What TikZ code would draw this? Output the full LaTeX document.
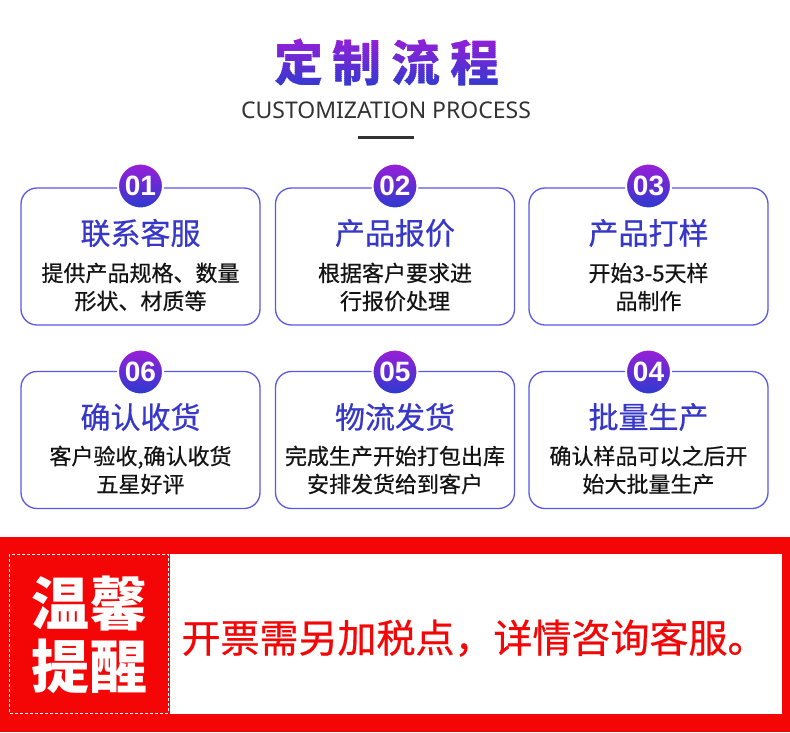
\documentclass[tikz,border=0pt]{standalone}
\usepackage{fontspec}
\usepackage{xcolor}
\usepackage{tikz}
\usetikzlibrary{positioning}
\newfontfamily\cjk{Noto Sans CJK SC}
\newfontfamily\cjkmed[FakeBold=0.6]{Noto Sans CJK SC}
\newfontfamily\latin{Noto Sans}
\newfontfamily\digits{Liberation Sans}
\definecolor{CPurple}{HTML}{9A1ED8}
\definecolor{CBlue}{HTML}{2B3BCF}
\definecolor{CTitle}{HTML}{3838C8}
\definecolor{CFrame}{HTML}{5858E6}
\definecolor{CInk}{HTML}{141414}
\definecolor{CGray}{HTML}{333333}
\definecolor{CRed}{HTML}{F50606}
\newcommand{\fsz}[2]{\fontsize{#1}{#2}\selectfont}
\newcommand{\headtext}{定\hspace{10pt}制\hspace{10pt}流\hspace{10pt}程}

\begin{document}
\begin{tikzpicture}[x=1pt, y=-1pt,
  card/.style={draw=CFrame, line width=1.3pt, rounded corners=16pt, fill=white,
    minimum width=239pt, minimum height=137pt, inner sep=0pt},
  badge/.style={circle, minimum size=45pt, inner sep=0pt, draw=white, line width=2pt,
    top color=CPurple, bottom color=CBlue, text=white, font=\digits\bfseries\fsz{28}{30}},
  cardtitle/.style={text=CTitle, font=\cjkmed\fsz{30}{34}},
  carddesc/.style={text=CInk, font=\cjkmed\fsz{22}{28}, align=center}]
\useasboundingbox (0,0) rectangle (790,732);
\fill[white] (0,0) rectangle (790,732);

% heading, shaded strip by strip
\foreach \i in {0,...,26}{
  \pgfmathsetmacro\pct{100-3.8*\i}
  \begin{scope}
    \clip (230,36+2*\i) rectangle (545,38.4+2*\i);
    \node[font=\cjk\bfseries\fsz{49}{56}, text=CPurple!\pct!CBlue, inner sep=0pt] at (387,63) {\headtext};
  \end{scope}
}
\node[font=\latin\fsz{23}{26}, text=CGray] (subhead) at (386,110) {CUSTOMIZATION PROCESS};
\draw[CGray, line width=3pt] (358,137) -- (414,137);

% row 1
\node[card] (card1) at (140.5,256.5) {};
\node[card] (card2) at (395,256.5) {};
\node[card] (card3) at (648.5,256.5) {};
\node[badge] (b1) at (140.5,186) {01};
\node[badge] (b2) at (395,186) {02};
\node[badge] (b3) at (648.5,186) {03};
\node[cardtitle] (t1) at (140.5,233) {联系客服};
\node[cardtitle] (t2) at (395,233) {产品报价};
\node[cardtitle] (t3) at (648.5,233) {产品打样};
\node[carddesc] (d1) at (140.5,287) {提供产品规格、数量\\形状、材质等};
\node[carddesc] (d2) at (395,287) {根据客户要求进\\行报价处理};
\node[carddesc] (d3) at (648.5,287) {开始3-5天样\\品制作};

% row 2
\node[card] (card6) at (140.5,440) {};
\node[card] (card5) at (395,440) {};
\node[card] (card4) at (648.5,440) {};
\node[badge] (b6) at (140.5,372) {06};
\node[badge] (b5) at (395,372) {05};
\node[badge] (b4) at (648.5,372) {04};
\node[cardtitle] (t6) at (140.5,417) {确认收货};
\node[cardtitle] (t5) at (395,417) {物流发货};
\node[cardtitle] (t4) at (648.5,417) {批量生产};
\node[carddesc] (d6) at (140.5,470) {客户验收,确认收货\\五星好评};
\node[carddesc] (d5) at (395,470) {完成生产开始打包出库\\安排发货给到客户};
\node[carddesc] (d4) at (648.5,470) {确认样品可以之后开\\始大批量生产};

% notice
\fill[CRed] (0,537) rectangle (790,732);
\fill[white] (170,554) rectangle (782,714);
\draw[white, line width=0.8pt, dash pattern=on 3pt off 2pt] (9,554) rectangle (168,713);
\node[text=white, font=\cjk\bfseries\fsz{58}{63}, align=center] (tip) at (89,635) {温馨\\提醒};
\node[text=CRed, font=\cjkmed\fsz{39}{44}] (note) at (474,638) {开票需另加税点，详情咨询客服。};
\end{tikzpicture}
\end{document}
